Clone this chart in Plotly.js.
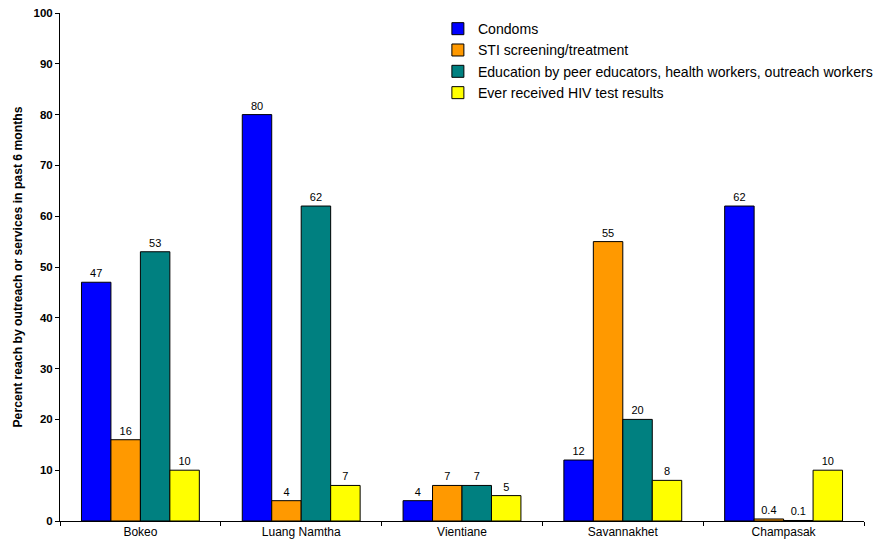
<!DOCTYPE html>
<html>
<head>
<meta charset="utf-8">
<script src="https://cdn.plot.ly/plotly-3.0.1.min.js"></script>
<style>html,body{margin:0;padding:0;background:#fff;}#chart{width:895px;height:544px;}</style>
</head>
<body>
<div id="chart"></div>
<script>
const provinces = ["Bokeo", "Luang Namtha", "Vientiane", "Savannakhet", "Champasak"];
const seriesNames = ["Condoms", "STI screening/treatment", "Education by peer educators, health workers, outreach workers", "Ever received HIV test results"];
const condoms = [47, 80, 4, 12, 62];
const sti = [16, 4, 7, 55, 0.4];
const education = [53, 62, 7, 20, 0.1];
const hivTest = [10, 7, 5, 8, 10];
const colors = ["#0000FF", "#FF9900", "#008080", "#FFFF00"];

const allSeries = [condoms, sti, education, hivTest];
const FONT = "Liberation Sans, Arial, sans-serif";

const traces = allSeries.map((vals, i) => ({
  type: "bar",
  name: seriesNames[i],
  x: provinces,
  y: vals,
  text: vals.map(v => String(v)),
  textposition: "outside",
  textfont: {family: FONT, size: 11, color: "#000"},
  cliponaxis: false,
  marker: {color: colors[i], line: {color: "#000", width: 1}}
}));

const layout = {
  width: 895, height: 544,
  margin: {l: 60, r: 31, t: 13, b: 23},
  paper_bgcolor: "#fff", plot_bgcolor: "#fff",
  barmode: "group",
  bargap: 0.267,
  bargroupgap: 0,
  font: {family: FONT, size: 11, color: "#000"},
  showlegend: true,
  legend: {
    x: 0.470, y: 1.0, xanchor: "left", yanchor: "top",
    font: {family: FONT, size: 14.1, color: "#000"},
    tracegroupgap: 0, itemwidth: 30,
    bgcolor: "rgba(0,0,0,0)"
  },
  xaxis: {
    type: "category",
    showline: true, linecolor: "#000", linewidth: 1,
    ticks: "outside", tickson: "boundaries", ticklen: 4, tickcolor: "#000",
    showgrid: false, zeroline: false,
    tickfont: {family: FONT, size: 12, color: "#000"}
  },
  yaxis: {
    range: [0, 100], dtick: 10, tick0: 0,
    showline: true, linecolor: "#000", linewidth: 1,
    ticks: "outside", ticklen: 4, tickcolor: "#000",
    showgrid: false, zeroline: false,
    tickfont: {family: FONT, size: 11.5, color: "#000", weight: "bold"},
    title: {text: "Percent reach by outreach or services in past 6 months", font: {family: FONT, size: 12.2, color: "#000", weight: "bold"}, standoff: 8}
  }
};

Plotly.newPlot("chart", traces, layout, {displayModeBar: false, staticPlot: true});
</script>
</body>
</html>
